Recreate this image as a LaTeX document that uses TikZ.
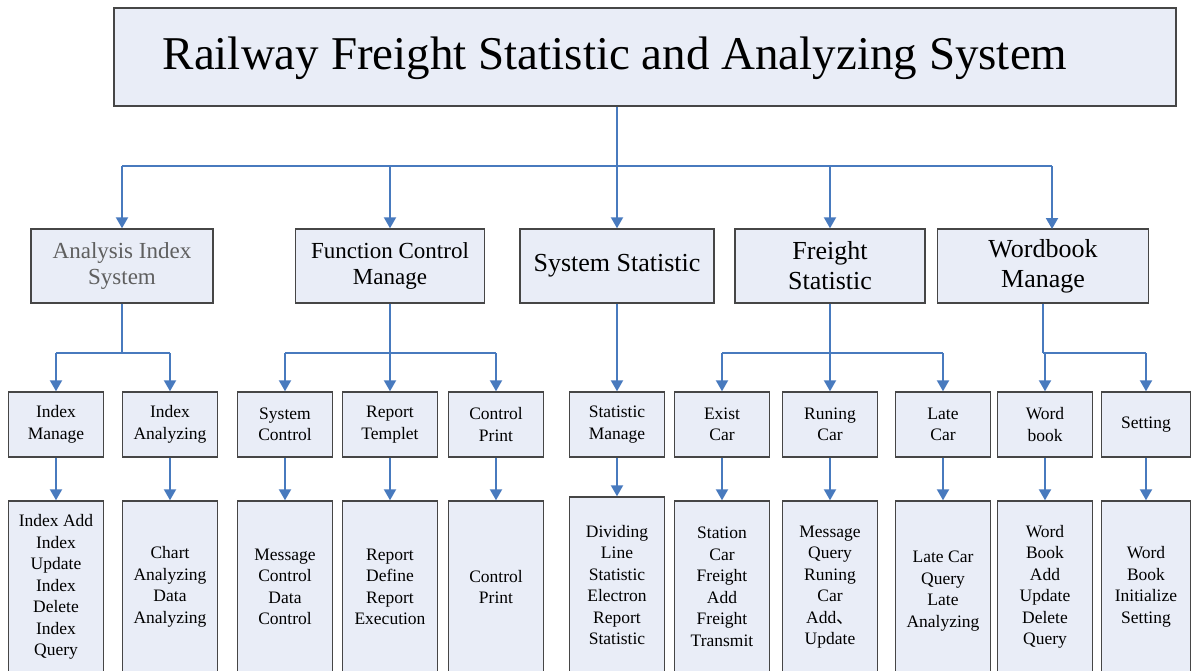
\documentclass[tikz,border=0pt]{standalone}
\usepackage{fontspec}
\setmainfont{Liberation Serif}
\newfontfamily\cjkfont{Noto Sans CJK SC}
\usetikzlibrary{arrows.meta}
\definecolor{boxfill}{RGB}{233,237,247}
\definecolor{boxline}{RGB}{70,70,70}
\definecolor{arrblue}{RGB}{72,122,190}
\definecolor{graytext}{RGB}{95,95,95}
\begin{document}
\begin{tikzpicture}[x=1pt,y=-1pt,
  box/.style={draw=boxline, fill=boxfill, line width=1.4pt, inner sep=0pt, align=center},
  con/.style={draw=arrblue, line width=2pt},
  arr/.style={con, -{Triangle[length=11pt,width=12pt]}},
  ttl/.style={font=\fontsize{47}{50}\selectfont},
  lvtwo/.style={box, minimum height=74pt, font=\fontsize{23}{26}\selectfont},
  lvtwobig/.style={box, minimum height=74pt, font=\fontsize{26}{30}\selectfont},
  lvthree/.style={box, minimum width=95pt, minimum height=65pt, font=\fontsize{17.5}{21.5}\selectfont},
  lvfour/.style={box, minimum width=95pt, minimum height=190pt},
  lvfourtext/.style={align=center, inner sep=0pt, font=\fontsize{17.5}{21.5}\selectfont}]
\useasboundingbox (0,0) rectangle (1193,671);
\clip (0,0) rectangle (1193,671);

% root
\node[box, minimum width=1062pt, minimum height=98pt] (root) at (645,57) {};
\node[ttl] (rootlabel) at (615,58) {Railway Freight Statistic and Analyzing System};

% level 2
\node[lvtwo, minimum width=182pt, text=graytext] (A) at (122,266) {Analysis Index\\System};
\node[lvtwo, minimum width=189pt] (B) at (390,266) {Function Control\\Manage};
\node[lvtwobig, minimum width=194pt] (C) at (617,266) {System Statistic};
\node[lvtwobig, minimum width=190pt] (D) at (830,266) {Freight\\Statistic};
\node[lvtwobig, minimum width=211pt] (E) at (1043,266) {Wordbook\\Manage};

% level 3
\node[lvthree] (a) at (56,424.5) {Index\\Manage};
\node[lvthree] (b) at (170,424.5) {Index\\Analyzing};
\node[lvthree] (c) at (285,424.5) {System\\Control};
\node[lvthree] (d) at (390,424.5) {Report\\Templet};
\node[lvthree] (e) at (496,424.5) {Control\\Print};
\node[lvthree] (f) at (617,424.5) {Statistic\\Manage};
\node[lvthree] (g) at (722,424.5) {Exist\\Car};
\node[lvthree] (h) at (830,424.5) {Runing\\Car};
\node[lvthree] (i) at (943,424.5) {Late\\Car};
\node[lvthree] (j) at (1045,424.5) {Word\\book};
\node[lvthree, minimum width=89pt] (k) at (1146,424.5) {Setting};

% level 4 boxes
\node[lvfour] (a4) at (56,596) {};
\node[lvfour] (b4) at (170,596) {};
\node[lvfour] (c4) at (285,596) {};
\node[lvfour] (d4) at (390,596) {};
\node[lvfour] (e4) at (496,596) {};
\node[lvfour, minimum height=198pt] (f4) at (617,596) {};
\node[lvfour] (g4) at (722,596) {};
\node[lvfour] (h4) at (830,596) {};
\node[lvfour] (i4) at (943,596) {};
\node[lvfour] (j4) at (1045,596) {};
\node[lvfour, minimum width=89pt] (k4) at (1146,596) {};

% level 4 texts
\node[lvfourtext] (a4t) at (56,587) {Index Add\\Index\\Update\\Index\\Delete\\Index\\Query};
\node[lvfourtext] (b4t) at (170,587) {Chart\\Analyzing\\Data\\Analyzing};
\node[lvfourtext] (c4t) at (285,587) {Message\\Control\\Data\\Control};
\node[lvfourtext] (d4t) at (390,587) {Report\\Define\\Report\\Execution};
\node[lvfourtext] (e4t) at (496,587) {Control\\Print};
\node[lvfourtext] (f4t) at (617,585) {Dividing\\Line\\Statistic\\Electron\\Report\\Statistic};
\node[lvfourtext] (g4t) at (722,587) {Station\\Car\\Freight\\Add\\Freight\\Transmit};
\node[lvfourtext] (h4t) at (830,587) {Message\\Query\\Runing\\Car\\Add{\cjkfont 、}\\Update};
\node[lvfourtext] (i4t) at (943,591) {Late Car\\Query\\Late\\Analyzing};
\node[lvfourtext] (j4t) at (1045,587) {Word\\Book\\Add\\Update\\Delete\\Query};
\node[lvfourtext] (k4t) at (1146,587) {Word\\Book\\Initialize\\Setting};

% connectors level 1 -> 2
\coordinate (busone) at (0,166);
\coordinate (Etop) at (1052,229);
\draw[arr] (root.south -| C.north) -- (C.north);
\draw[con] (busone -| A.north) -- (busone -| Etop);
\draw[arr] (busone -| A.north) -- (A.north);
\draw[arr] (busone -| B.north) -- (B.north);
\draw[arr] (busone -| D.north) -- (D.north);
\draw[arr] (busone -| Etop) -- (Etop);

% level 2 -> 3
\coordinate (bustwo) at (0,353);
\draw[con] (A.south) -- (A.south |- bustwo);
\draw[con] (bustwo -| a.north) -- (bustwo -| b.north);
\draw[arr] (bustwo -| a.north) -- (a.north);
\draw[arr] (bustwo -| b.north) -- (b.north);

\draw[con] (B.south) -- (B.south |- bustwo);
\draw[con] (bustwo -| c.north) -- (bustwo -| e.north);
\draw[arr] (bustwo -| c.north) -- (c.north);
\draw[arr] (bustwo -| d.north) -- (d.north);
\draw[arr] (bustwo -| e.north) -- (e.north);

\draw[arr] (C.south) -- (f.north);

\draw[con] (D.south) -- (D.south |- bustwo);
\draw[con] (bustwo -| g.north) -- (bustwo -| i.north);
\draw[arr] (bustwo -| g.north) -- (g.north);
\draw[arr] (bustwo -| h.north) -- (h.north);
\draw[arr] (bustwo -| i.north) -- (i.north);

\draw[con] (E.south) -- (E.south |- bustwo);
\draw[con] (bustwo -| E.south) -- (bustwo -| k.north);
\draw[arr] (bustwo -| j.north) -- (j.north);
\draw[arr] (bustwo -| k.north) -- (k.north);

% level 3 -> 4
\foreach \n in {a,b,c,d,e,f,g,h,i,j,k}{
  \draw[arr] (\n.south) -- (\n4.north);
}
\end{tikzpicture}
\end{document}
